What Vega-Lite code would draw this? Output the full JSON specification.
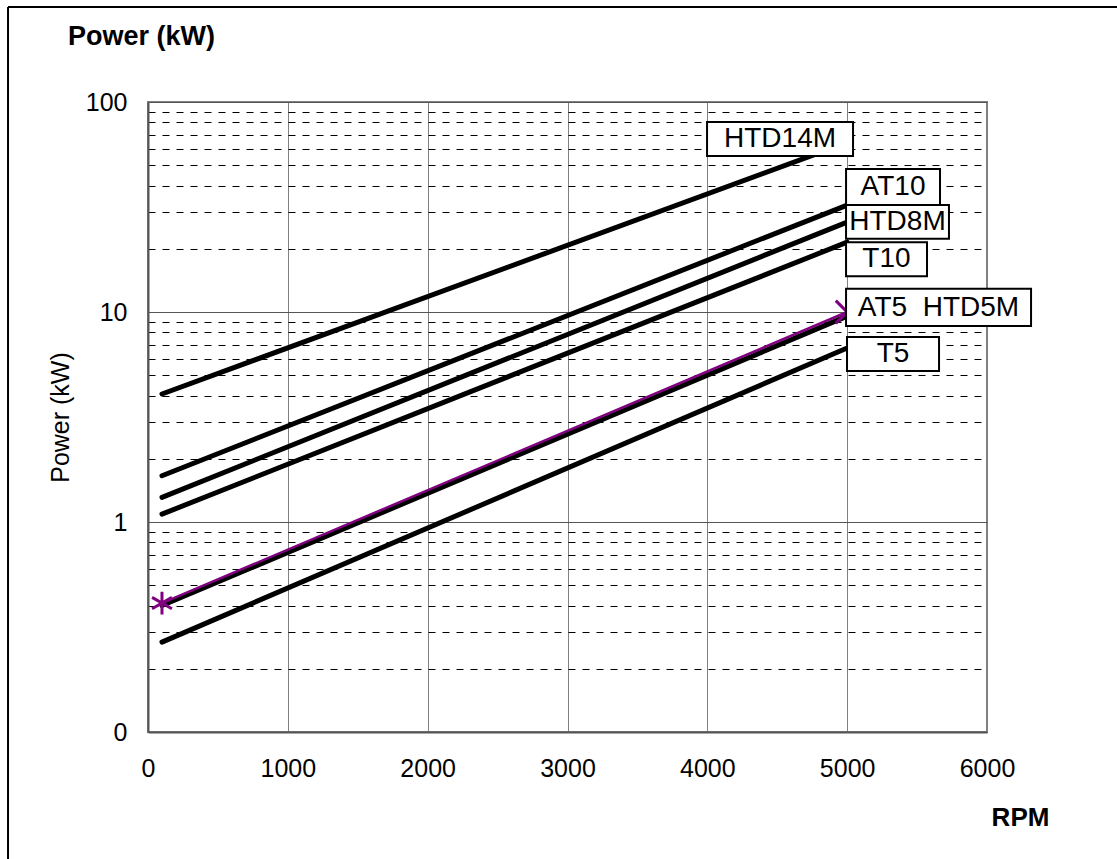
{
  "$schema": "https://vega.github.io/schema/vega-lite/v6.json",
  "autosize": {"type": "none"},
  "width": 839,
  "height": 630,
  "padding": {"left": 148, "top": 102, "right": 130, "bottom": 127},
  "background": "white",
  "config": {
    "view": {"stroke": "#808080", "strokeWidth": 2},
    "font": "Liberation Sans",
    "text": {"font": "Liberation Sans"}
  },
  "title": {
    "text": "Power (kW)",
    "anchor": "start",
    "frame": "group",
    "dx": -80,
    "offset": -72,
    "baseline": "bottom",
    "fontSize": 27,
    "fontWeight": "bold",
    "font": "Liberation Sans",
    "color": "black"
  },
  "datasets": {
    "lines": [
      {"belt": "HTD14M", "rpm": 100, "kw": 4.07},
      {"belt": "HTD14M", "rpm": 5000, "kw": 64},
      {"belt": "AT10", "rpm": 100, "kw": 1.66},
      {"belt": "AT10", "rpm": 5000, "kw": 32.3},
      {"belt": "HTD8M", "rpm": 100, "kw": 1.31},
      {"belt": "HTD8M", "rpm": 5000, "kw": 26.8},
      {"belt": "T10", "rpm": 100, "kw": 1.09},
      {"belt": "T10", "rpm": 5000, "kw": 21.5},
      {"belt": "AT5 HTD5M", "rpm": 100, "kw": 0.40},
      {"belt": "AT5 HTD5M", "rpm": 5000, "kw": 9.56},
      {"belt": "T5", "rpm": 100, "kw": 0.268},
      {"belt": "T5", "rpm": 5000, "kw": 6.74}
    ],
    "selected": [
      {"point": "start", "rpm": 100, "kw": 0.411},
      {"point": "end", "rpm": 5000, "kw": 10.0}
    ],
    "labels": [
      {"label": "HTD14M", "rpm1": 3998, "rpm2": 5042, "kw1": 80.3, "kw2": 55.3, "rpm": 4520, "kw": 66.6},
      {"label": "AT10", "rpm1": 4992, "rpm2": 5664, "kw1": 48.0, "kw2": 32.3, "rpm": 5328, "kw": 39.4},
      {"label": "HTD8M", "rpm1": 4992, "rpm2": 5728, "kw1": 32.3, "kw2": 22.3, "rpm": 5360, "kw": 26.8},
      {"label": "T10", "rpm1": 4992, "rpm2": 5571, "kw1": 21.5, "kw2": 14.8, "rpm": 5281, "kw": 17.9},
      {"label": "AT5\u00a0\u00a0HTD5M", "rpm1": 4992, "rpm2": 6315, "kw1": 12.9, "kw2": 8.58, "rpm": 5653, "kw": 10.5},
      {"label": "T5", "rpm1": 4999, "rpm2": 5657, "kw1": 7.6, "kw2": 5.24, "rpm": 5328, "kw": 6.31}
    ],
    "frame": [
      {"rpm": -1001, "rpm2": -1001, "kw": 283, "kw2": 0.015},
      {"rpm": -1001, "rpm2": 9000, "kw": 283, "kw2": 283}
    ]
  },
  "layer": [
    {
      "data": {"name": "lines"},
      "mark": {"type": "line", "color": "black", "strokeWidth": 5, "strokeCap": "round"},
      "encoding": {
        "x": {
          "field": "rpm", "type": "quantitative",
          "scale": {"domain": [0, 6000], "nice": false, "zero": false},
          "axis": {
            "values": [0, 1000, 2000, 3000, 4000, 5000, 6000],
            "format": "d",
            "grid": true, "gridColor": "#808080", "gridWidth": 1,
            "ticks": false,
            "domainColor": "#555555", "domainWidth": 2,
            "labelFontSize": 25, "labelColor": "black", "labelPadding": 24, "labelFont": "Liberation Sans",
            "labelOverlap": false, "labelFlush": false,
            "title": "RPM", "titleFontSize": 26, "titleFontWeight": "bold", "titleColor": "black",
            "titleFont": "Liberation Sans",
            "titleX": 872, "titleY": 85, "titleAlign": "center", "titleBaseline": "middle"
          }
        },
        "y": {
          "field": "kw", "type": "quantitative",
          "scale": {"type": "log", "domain": [0.1, 100], "nice": false},
          "axis": {
            "values": [0.1, 0.2, 0.3, 0.4, 0.5, 0.6, 0.7, 0.8, 0.9, 1, 2, 3, 4, 5, 6, 7, 8, 9, 10, 20, 30, 40, 50, 60, 70, 80, 90, 100],
            "labelExpr": "abs(log(datum.value)/LN10 - round(log(datum.value)/LN10)) < 0.001 ? (datum.value < 0.5 ? '0' : format(datum.value, 'd')) : ''",
            "grid": true,
            "gridDash": {"condition": {"test": "abs(log(datum.value)/LN10 - round(log(datum.value)/LN10)) < 0.001", "value": []}, "value": [7, 7]},
            "gridColor": {"condition": {"test": "abs(log(datum.value)/LN10 - round(log(datum.value)/LN10)) < 0.001", "value": "#555555"}, "value": "#000000"},
            "gridWidth": 1,
            "ticks": false,
            "domainColor": "#555555", "domainWidth": 2,
            "labelFontSize": 25, "labelColor": "black", "labelPadding": 21, "labelFont": "Liberation Sans",
            "labelOverlap": false, "labelBound": false,
            "title": "Power (kW)", "titleFontSize": 25, "titleFontWeight": "normal", "titleColor": "black",
            "titleFont": "Liberation Sans", "titlePadding": 12
          }
        },
        "detail": {"field": "belt"}
      }
    },
    {
      "data": {"name": "selected"},
      "mark": {"type": "line", "color": "#800080", "strokeWidth": 2.5},
      "encoding": {
        "x": {"field": "rpm", "type": "quantitative"},
        "y": {"field": "kw", "type": "quantitative"}
      }
    },
    {
      "data": {"name": "selected"},
      "mark": {"type": "point", "filled": false, "color": "#800080", "strokeWidth": 3, "opacity": 1},
      "encoding": {
        "x": {"field": "rpm", "type": "quantitative"},
        "y": {"field": "kw", "type": "quantitative"},
        "shape": {
          "field": "point", "type": "nominal",
          "scale": {"domain": ["start", "end"], "range": ["M0,-1L0,1M-0.87,-0.5L0.87,0.5M-0.87,0.5L0.87,-0.5", "M-1,-1L1,1M-1,1L1,-1"]},
          "legend": null
        },
        "size": {"value": 520}
      }
    },
    {
      "data": {"name": "labels"},
      "mark": {"type": "rect", "fill": "white", "stroke": "black", "strokeWidth": 2},
      "encoding": {
        "x": {"field": "rpm1", "type": "quantitative"},
        "x2": {"field": "rpm2"},
        "y": {"field": "kw1", "type": "quantitative"},
        "y2": {"field": "kw2"}
      }
    },
    {
      "data": {"name": "labels"},
      "mark": {"type": "text", "fontSize": 28, "color": "black", "align": "center", "baseline": "middle", "font": "Liberation Sans"},
      "encoding": {
        "x": {"field": "rpm", "type": "quantitative"},
        "y": {"field": "kw", "type": "quantitative"},
        "text": {"field": "label"}
      }
    },
    {
      "data": {"name": "frame"},
      "mark": {"type": "rule", "color": "black", "strokeWidth": 2},
      "encoding": {
        "x": {"field": "rpm", "type": "quantitative"},
        "x2": {"field": "rpm2"},
        "y": {"field": "kw", "type": "quantitative"},
        "y2": {"field": "kw2"}
      }
    }
  ]
}
